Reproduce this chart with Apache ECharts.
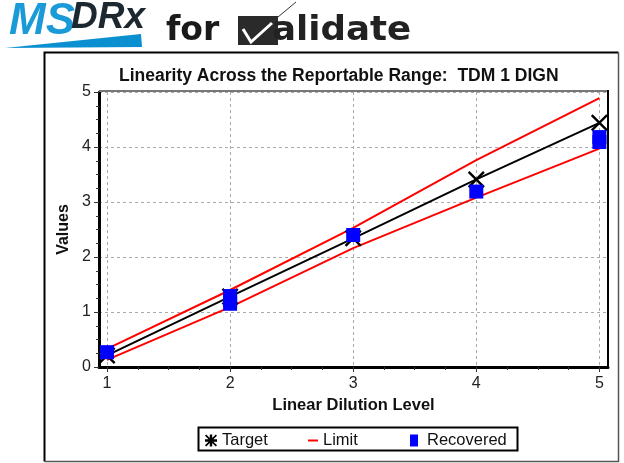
<!DOCTYPE html>
<html>
<head>
<meta charset="utf-8">
<style>html,body{margin:0;padding:0;background:#fff}#chart{width:624px;height:463px}</style>
<script src="https://cdn.jsdelivr.net/npm/echarts@6/dist/echarts.min.js"></script>
</head>
<body>
<div id="chart"></div>
<script>
// values
var levels = [1, 2, 3, 4, 5];
var minorLevels = [1.25, 1.5, 1.75, 2.25, 2.5, 2.75, 3.25, 3.5, 3.75, 4.25, 4.5, 4.75];
var target = [0.21, 1.28, 2.34, 3.41, 4.44];
var limitUpper = [0.33, 1.40, 2.53, 3.76, 4.89];
var limitLower = [0.13, 1.09, 2.16, 3.08, 3.97];
var recoveredLevel = [1, 2, 2, 2, 3, 4, 5, 5];
var recoveredValue = [0.27, 1.15, 1.22, 1.29, 2.40, 3.19, 4.09, 4.18];

var crossIcon = 'path://M0 2L2 0L10 8L18 0L20 2L12 10L20 18L18 20L10 12L2 20L0 18L8 10Z';
var legendIcon = 'path://M0 2L2 0L8 6V0H12V6L18 0L20 2L14 8H20V12H14L20 18L18 20L12 14V20H8V14L2 20L0 18L6 12H0V8H6Z';
var font = '"Liberation Sans", Arial, sans-serif';
var xMin = 0.935, xMax = 5.07;

function zip(a, b) {
    return a.map(function(v, i) { return [v, b[i]]; });
}

var myChart = echarts.init(document.getElementById('chart'));
var option = {
    animation: false,
    backgroundColor: '#fff',
    textStyle: { fontFamily: font },
    title: {
        text: 'Linearity Across the Reportable Range:  TDM 1 DIGN',
        left: 114, top: 62,
        textStyle: { fontSize: 17.5, fontWeight: 'bold', color: '#111', fontFamily: font }
    },
    grid: { left: 99, right: 16, top: 92, bottom: 96, show: false },
    xAxis: [{
        type: 'value', min: xMin, max: xMax,
        name: 'Linear Dilution Level', nameLocation: 'middle', nameGap: 30,
        nameTextStyle: { fontSize: 16.5, fontWeight: 'bold', color: '#111' },
        axisLine: { onZero: false, lineStyle: { color: '#000', width: 3 } },
        axisTick: { length: 5, lineStyle: { color: '#333' }, customValues: levels },
        axisLabel: { fontSize: 16, color: '#222', margin: 9, customValues: levels },
        splitLine: { show: true, lineStyle: { color: '#aaa', type: [3, 3], width: 1 } }
    }, {
        // only carries the small ticks between levels
        type: 'value', position: 'bottom', min: xMin, max: xMax,
        axisLine: { show: false },
        axisTick: { show: true, length: 3, lineStyle: { color: '#333' }, customValues: minorLevels },
        axisLabel: { show: false },
        splitLine: { show: false }
    }],
    yAxis: {
        type: 'value', min: 0, max: 5, interval: 1,
        name: 'Values', nameLocation: 'middle', nameGap: 25,
        nameTextStyle: { fontSize: 16, fontWeight: 'bold', color: '#111' },
        axisLine: { show: true, lineStyle: { color: '#000', width: 3 } },
        axisTick: { show: true, length: 5, lineStyle: { color: '#333' } },
        minorTick: { show: true, splitNumber: 4, length: 3, lineStyle: { color: '#333' } },
        axisLabel: { fontSize: 16, color: '#222', margin: 8 },
        splitLine: { show: true, lineStyle: { color: '#aaa', type: [3, 3], width: 1 } }
    },
    legend: [
        { left: 205, top: 432, data: [{ name: 'Target', icon: legendIcon }], itemWidth: 12, itemHeight: 12, padding: 0,
          textStyle: { fontSize: 16.5, color: '#111', padding: [0, 0, 0, 0] } },
        { left: 308, top: 432, data: [{ name: 'Limit', icon: 'rect' }], itemWidth: 10, itemHeight: 2, padding: 0,
          textStyle: { fontSize: 16.5, color: '#111' } },
        { left: 410, top: 432, data: [{ name: 'Recovered', icon: 'rect' }], itemWidth: 8, itemHeight: 12, padding: 0,
          textStyle: { fontSize: 16.5, color: '#111', padding: [0, 0, 0, 4] } }
    ],
    series: [
        { name: 'Target', type: 'line', data: zip(levels, target), clip: false,
          symbol: crossIcon, symbolSize: 17, showAllSymbol: true,
          lineStyle: { color: '#000', width: 2 }, itemStyle: { color: '#000' } },
        { name: 'Limit', type: 'line', data: zip(levels, limitUpper), clip: false, showSymbol: false,
          symbol: 'none', lineStyle: { color: '#f00', width: 2 }, itemStyle: { color: '#f00' } },
        { name: 'Limit', type: 'line', data: zip(levels, limitLower), clip: false, showSymbol: false,
          symbol: 'none', lineStyle: { color: '#f00', width: 2 }, itemStyle: { color: '#f00' } },
        { name: 'Recovered', type: 'scatter', data: zip(recoveredLevel, recoveredValue), clip: false,
          symbol: 'rect', symbolSize: 14, itemStyle: { color: '#00f', opacity: 1 }, z: 5 }
    ],
    graphic: [
        // outer frame, darker on the top and left
        { type: 'polyline', z: 1, silent: true, shape: { points: [[44.5, 461.5], [44.5, 52.5], [618.5, 52.5]] },
          style: { fill: null, stroke: '#000', lineWidth: 2 } },
        { type: 'polyline', z: 1, silent: true, shape: { points: [[618.5, 52.5], [618.5, 461.5], [44.5, 461.5]] },
          style: { fill: null, stroke: '#555', lineWidth: 1.5 } },
        // top and right of the plot box
        { type: 'line', z: 3, silent: true, shape: { x1: 99, y1: 91, x2: 608, y2: 91 }, style: { stroke: '#777', lineWidth: 2 } },
        { type: 'line', z: 3, silent: true, shape: { x1: 608, y1: 90, x2: 608, y2: 368 }, style: { stroke: '#000', lineWidth: 2 } },
        // legend box
        { type: 'rect', z: 1, silent: true, shape: { x: 198.5, y: 427.5, width: 319, height: 23 },
          style: { fill: '#fff', stroke: '#000', lineWidth: 2 } },
        // logo
        { type: 'text', silent: true, x: 9, y: 0, style: { text: 'MS', font: 'italic bold 44px "Liberation Sans"', fill: '#1a9ad6' } },
        { type: 'text', silent: true, x: 71, y: -1, style: { text: 'DRx', font: 'italic bold 37px "Liberation Sans"', fill: '#1c2730' } },
        { type: 'polygon', silent: true, shape: { points: [[5, 48], [141, 34], [142, 47]] }, style: { fill: '#0a8fd0' } },
        { type: 'text', silent: true, x: 166, y: 15, style: { text: 'for', font: 'bold 33px "DejaVu Sans"', fill: '#1a1a1a' } },
        { type: 'rect', silent: true, shape: { x: 238, y: 16, width: 40, height: 29 }, style: { fill: '#2a2a2a' } },
        { type: 'polyline', silent: true, shape: { points: [[243, 29], [251, 42], [272, 23]] }, style: { fill: null, stroke: '#fff', lineWidth: 3 } },
        { type: 'line', silent: true, shape: { x1: 272, y1: 22, x2: 296, y2: 2 }, style: { stroke: '#333', lineWidth: 1 } },
        { type: 'text', silent: true, x: 272, y: 15, scaleX: 1.08, style: { text: 'alidate', font: 'bold 33px "DejaVu Sans"', fill: '#222' } }
    ]
};
myChart.setOption(option);
</script>
</body>
</html>
